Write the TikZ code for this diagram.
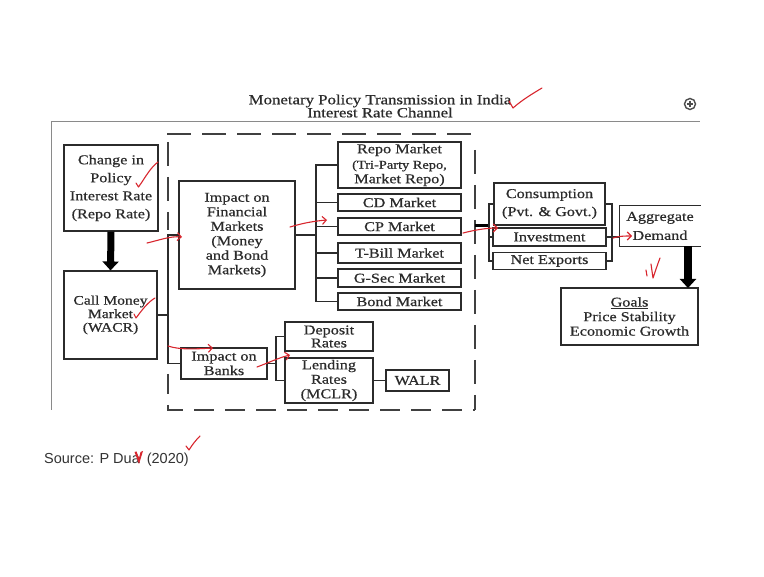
\documentclass[tikz,border=0pt]{standalone}
\usepackage{fontspec}
\setmainfont{Liberation Serif}
\newfontfamily\boxfont{Liberation Serif}[FakeStretch=1.2, FakeBold=0.6]
\newfontfamily\srcfont{Liberation Sans}
\usetikzlibrary{arrows.meta}
\definecolor{ink}{HTML}{2B2B2B}
\definecolor{frame}{HTML}{8A8A8A}
\definecolor{pen}{HTML}{D8262E}
\tikzset{
  box/.style={draw=ink, line width=1.1pt, fill=white, inner sep=0pt,
    align=center, text=ink, font=\boxfont\fontsize{13.5}{14.5}\selectfont},
  wide/.style={font=\boxfont\fontsize{13.5}{18}\selectfont},
  link/.style={draw=ink, line width=1.1pt},
  fatarrow/.style={draw=black, line width=7pt,
    -{Triangle[width=16pt,length=9pt]}},
  dashedge/.style={draw=black!75, line width=2.6pt, dash pattern=on 24pt off 11pt},
  note/.style={draw=pen, line width=1.1pt, line cap=round, line join=round},
  notehead/.style={note, -{Straight Barb[length=4pt,width=8pt]}}
}
\begin{document}
\begin{tikzpicture}[x=1pt,y=-1pt]
\useasboundingbox (0,0) rectangle (764,577);
\fill[white] (0,0) rectangle (764,577);

% slide frame and heading
\draw[frame, line width=1pt] (51,410) -- (51,122) -- (700,122);
\node[text=ink, align=center, font=\boxfont\fontsize{14}{13}\selectfont] (title) at (380,106)
  {Monetary Policy Transmission in India\\Interest Rate Channel};
\node[draw=black!70, circle, line width=1.4pt, minimum size=11pt, inner sep=0pt] (zoomicon) at (690,104) {};
\draw[black!70, line width=1.2pt] (zoomicon.center) ++(-3,0) -- ++(6,0)
  (zoomicon.center) ++(0,-3) -- ++(0,6);

% dashed boundary of the financial markets block
\coordinate (dtl) at (167,134);
\coordinate (dtr) at (475,134);
\coordinate (drt) at (475,150);
\coordinate (dbr) at (475,410);
\coordinate (dbl) at (168,410);
\coordinate (dlt) at (168,142);
\coordinate (dlm) at (168,230);
\coordinate (dlb) at (168,374);
\draw[dashedge] (dtl) -- (dtr);
\draw[dashedge] (drt) -- (dbr);
\draw[dashedge] (dlt) -- (dlm);
\draw[dashedge, dash pattern=on 20pt off 11pt] (dlb) -- (dbl) -- (dbr);

% boxes
\node[box, wide, minimum width=94pt, minimum height=86pt] (chg) at (111,188)
  {Change in\\Policy\\Interest Rate\\(Repo Rate)};
\node[box, font=\boxfont\fontsize{13}{13.5}\selectfont, minimum width=93pt, minimum height=88pt] (call) at (110.5,315)
  {Call Money\\Market\\(WACR)};
\node[box, minimum width=116pt, minimum height=108pt] (fin) at (237,235)
  {Impact on\\Financial\\Markets\\(Money\\and Bond\\Markets)};
\node[box, minimum width=86pt, minimum height=31pt] (banks) at (224,363.5)
  {Impact on\\Banks};

\node[box, minimum width=123pt, minimum height=46pt] (repo) at (399.5,165)
  {Repo Market\\[1pt]\fontsize{12}{15.5}\selectfont (Tri-Party Repo,\\Market Repo)};
\node[box, minimum width=123pt, minimum height=17pt] (cd) at (399.5,202.5) {CD Market};
\node[box, minimum width=123pt, minimum height=17pt] (cp) at (399.5,226.5) {CP Market};
\node[box, minimum width=123pt, minimum height=20pt] (tbill) at (399.5,253) {T-Bill Market};
\node[box, minimum width=123pt, minimum height=18pt] (gsec) at (399.5,278) {G-Sec Market};
\node[box, minimum width=123pt, minimum height=17pt] (bond) at (399.5,301.5) {Bond Market};

\node[box, font=\boxfont\fontsize{13.5}{13}\selectfont, minimum width=88pt, minimum height=29pt] (dep) at (329,336.5)
  {Deposit\\Rates};
\node[box, minimum width=88pt, minimum height=45pt] (lend) at (329,380.5)
  {Lending\\Rates\\(MCLR)};
\node[box, minimum width=63pt, minimum height=21pt] (walr) at (417.5,380.5) {WALR};

\node[box, wide, minimum width=111pt, minimum height=42pt] (cons) at (549.5,204)
  {Consumption\\(Pvt. \& Govt.)};
\node[box, minimum width=113pt, minimum height=18pt] (inv) at (549.5,237) {Investment};
\node[box, minimum width=113pt, minimum height=17pt] (net) at (549.5,261) {Net Exports};

\node[box, draw=none, font=\boxfont\fontsize{13.5}{19}\selectfont, minimum width=80pt, minimum height=40pt] (agg) at (660,226)
  {Aggregate\\Demand};
\draw[link] (agg.north east) -- (agg.north west) -- (agg.south west) -- (agg.south east);

\node[box, minimum width=137pt, minimum height=57pt] (goals) at (629.5,316.5)
  {\underline{Goals}\\Price Stability\\Economic Growth};

% thick arrows
\draw[fatarrow] (chg.south) -- (call.north);
\coordinate (aggfoot) at (688,246);
\coordinate (goalstop) at (688,288);
\draw[fatarrow, line width=8pt] (aggfoot) -- (goalstop);

% connectors
\coordinate (bx) at (168,315);
\draw[link] (call.east) -- (bx);
\draw[link] (fin.west) -| (bx) |- (banks.west);

\coordinate (mx) at (316,235);
\draw[link] (fin.east) -- (mx);
\draw[link] (repo.west) -| (mx) |- (bond.west);
\foreach \n in {cd,cp,tbill,gsec}
  \draw[link] (\n.west) -- (\n.west -| mx);

\coordinate (bkx) at (276,363.5);
\draw[link] (banks.east) -- (bkx);
\draw[link] (dep.west) -| (bkx) |- (lend.west);
\draw[link] (lend.east) -- (walr.west);

\coordinate (dout) at (475,226);
\coordinate (dlx) at (489,226);
\draw[draw=black, line width=3pt] (dout) -- (dlx);
\draw[link] (cons.west) -| (dlx) |- (net.west);
\draw[link] (inv.west) -- (inv.west -| dlx);

\coordinate (drx) at (612,237);
\draw[link] (cons.east) -| (drx) |- (net.east);
\draw[link] (inv.east) -- (drx) -- (drx -| agg.west);

% source line
\node[anchor=west, inner sep=0pt, text=black!80, font=\srcfont\fontsize{14.5}{16}\selectfont] (src) at (44,460)
  {Source: P Dua\hspace{7pt}(2020)};

% red pen marks
\draw[note] (136,183) -- (138.5,187) .. controls (145,178) and (150,168) .. (158,162);
\draw[notehead] (147,243) .. controls (160,240) and (170,236) .. (182,237);
\draw[notehead] (290,227) .. controls (303,223) and (315,221) .. (327,220);
\draw[note] (134,314) -- (136,318) .. controls (142,310) and (148,302) .. (155,298);
\draw[notehead] (168,346) .. controls (180,350) and (195,349) .. (213,348);
\draw[notehead] (257,367) .. controls (268,363) and (278,358) .. (290,355);
\draw[notehead] (463,233) .. controls (475,230) and (486,228) .. (498,228);
\draw[notehead] (613,238) .. controls (619,236) and (625,236) .. (632,236);
\draw[note] (646,270) -- (647,276);
\draw[note] (651,264) -- (653,278) .. controls (655,272) and (657,266) .. (660,258);
\draw[note] (509,101) -- (513,108) .. controls (522,100) and (532,94) .. (542,88);
\draw[note] (186,446) -- (189,450) .. controls (192,445) and (196,440) .. (200,436);
\fill[pen] (134.5,452) -- (139,464) -- (143,451) -- (140.5,452) -- (139,458) -- (136.5,451.5) -- cycle;
\end{tikzpicture}
\end{document}
